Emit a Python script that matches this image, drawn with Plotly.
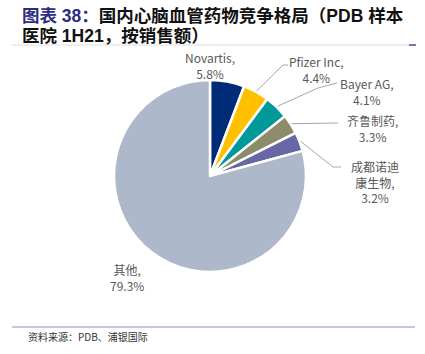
import math
import plotly.graph_objects as go

# ---- data ----
companies = ["Novartis", "Pfizer Inc", "Bayer AG", "齐鲁制药", "成都诺迪康生物", "其他"]
label_text = ["Novartis,<br>5.8%", "Pfizer Inc,<br>4.4%", "Bayer AG,<br>4.1%",
              "齐鲁制药,<br>3.3%", "成都诺迪<br>康生物,<br>3.2%", "其他,<br>79.3%"]
shares = [5.8, 4.4, 4.1, 3.3, 3.2, 79.3]
colors = ["#002c77", "#ffc000", "#009999", "#8c8c6a", "#6767a5", "#adb9cb"]

# ---- layout geometry (pixels) ----
W, H = 425, 354
CX, CY, R = 210, 176, 96
label_pos = [(210, 66), (316, 69), (367, 91), (372, 128), (375, 182), (127, 277)]
leader = [None, [(283, 65), (288, 65)], [(318, 88), (337, 83)], [(338, 123)],
          [(333, 167), (341, 167)], None]

def px(x):
    return x / W

def py(y):
    return 1 - y / H

fig = go.Figure()
fig.add_trace(go.Pie(
    labels=companies, values=shares, sort=False, direction="clockwise", rotation=0,
    marker=dict(colors=colors, line=dict(color="white", width=2.5)),
    textinfo="none", hoverinfo="label+percent", showlegend=False,
    domain=dict(x=[px(CX - R), px(CX + R)], y=[py(CY + R), py(CY - R)]),
))

annotations = []
shapes = []
total = sum(shares)
cum = 0
for i, v in enumerate(shares):
    mid = (cum + v / 2) / total * 2 * math.pi
    cum += v
    lx, ly = label_pos[i]
    annotations.append(dict(
        x=px(lx), y=py(ly), xref="paper", yref="paper", text=label_text[i],
        showarrow=False, xanchor="center", yanchor="middle", align="center",
        font=dict(family="Noto Sans CJK SC, Noto Sans", size=12, color="#595959"),
    ))
    if leader[i]:
        pts = [(CX + (R + 1) * math.sin(mid), CY - (R + 1) * math.cos(mid))] + leader[i]
        for (x0, y0), (x1, y1) in zip(pts[:-1], pts[1:]):
            shapes.append(dict(type="line", xref="paper", yref="paper",
                               x0=px(x0), y0=py(y0), x1=px(x1), y1=py(y1),
                               line=dict(color="#a6a6a6", width=1)))

# title (two lines)
title_font = dict(family="Liberation Sans, Noto Sans CJK SC", size=17.5, color="#111111")
annotations.append(dict(
    x=px(21), y=py(16.5), xref="paper", yref="paper", xanchor="left", yanchor="middle",
    align="left", showarrow=False, borderpad=0,
    text="<b><span style='color:#2d2d80'>图表 38：</span>国内心脑血管药物竞争格局（PDB 样本</b>",
    font=title_font,
))
annotations.append(dict(
    x=px(21), y=py(36), xref="paper", yref="paper", xanchor="left", yanchor="middle",
    align="left", showarrow=False, borderpad=0,
    text="<b>医院 1H21，按销售额）</b>",
    font=title_font,
))
# source
annotations.append(dict(
    x=px(26), y=py(336), xref="paper", yref="paper", xanchor="left", yanchor="middle",
    showarrow=False, text="资料来源：PDB、浦银国际",
    font=dict(family="Noto Sans CJK SC", size=10, color="#333333"),
))
# rules
shapes.append(dict(type="line", xref="paper", yref="paper", x0=px(12), x1=px(409),
                   y0=py(45), y1=py(45), line=dict(color="#dcdce6", width=1)))
shapes.append(dict(type="line", xref="paper", yref="paper", x0=px(409), x1=px(416),
                   y0=py(45), y1=py(45), line=dict(color="#4a4a80", width=1.5)))
shapes.append(dict(type="line", xref="paper", yref="paper", x0=px(12), x1=px(415),
                   y0=py(327), y1=py(327), line=dict(color="#8c8cb8", width=1.2)))

fig.update_layout(
    width=W, height=H, margin=dict(l=0, r=0, t=0, b=0),
    paper_bgcolor="white", plot_bgcolor="white",
    annotations=annotations, shapes=shapes,
)
fig.write_html("out.html")
